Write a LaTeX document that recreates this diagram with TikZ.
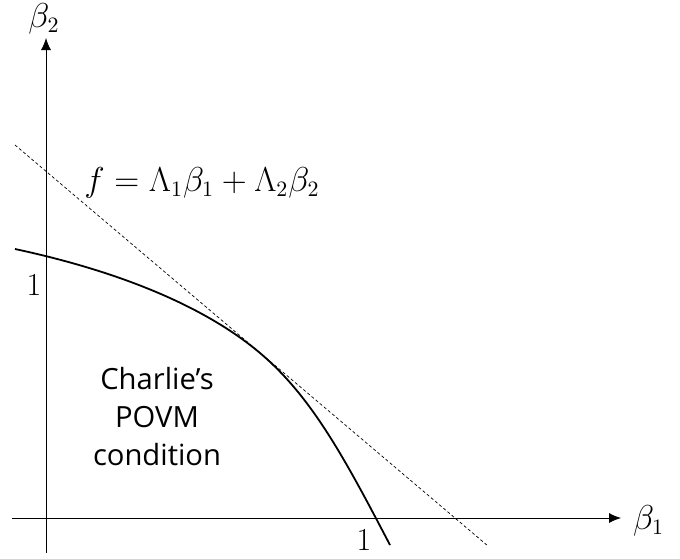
\documentclass[tikz,border=0pt]{standalone}
\usepackage{fontspec}
\newfontfamily\labelfont{Open Sans}
\usetikzlibrary{arrows.meta}
\tikzset{
  axis/.style={thin, -{Latex[length=6pt,width=5pt]}},
  boundary/.style={line width=0.9pt, black},
  tangent/.style={line width=0.35pt, dash pattern=on 1.5pt off 1.2pt},
  mathlbl/.style={font=\fontsize{16}{19}\selectfont},
}
\begin{document}
\begin{tikzpicture}[x=0.5pt, y=-0.5pt]
  \useasboundingbox (0,0) rectangle (680,558);

  % Axes
  \coordinate (xstart) at (12,518);
  \coordinate (xend) at (621,518);
  \coordinate (ystart) at (46,553);
  \coordinate (yend) at (46,38);
  \draw[axis] (xstart) -- (xend);
  \draw[axis] (ystart) -- (yend);
  \node[mathlbl, anchor=west] (b1) at (626,521) {$\beta_1$};
  \node[mathlbl] (b2) at (44,19) {$\beta_2$};

  % Unit ticks
  \node[mathlbl] (one-y) at (34,285) {1};
  \node[mathlbl] (one-x) at (364,540) {1};

  % Tangent line
  \coordinate (tA) at (15,145);
  \coordinate (tB) at (488,546);
  \draw[tangent] (tA) -- (tB);
  \node[mathlbl] (fval) at (202,183) {$f=\Lambda_1\beta_1+\Lambda_2\beta_2$};

  % Boundary of the allowed region, touching the line at (touch)
  \coordinate (cstart) at (15,249);
  \coordinate (touch) at (260,353);
  \coordinate (cend) at (390,545);
  \draw[boundary] (cstart) .. controls (85,264) and (190,294) .. (touch)
    .. controls (312,397) and (345,459) .. (cend);

  % Region label
  \node[font=\labelfont\fontsize{14.6}{19}\selectfont, align=center] (region) at (157,417)
    {Charlie’s\\POVM\\condition};
\end{tikzpicture}
\end{document}
